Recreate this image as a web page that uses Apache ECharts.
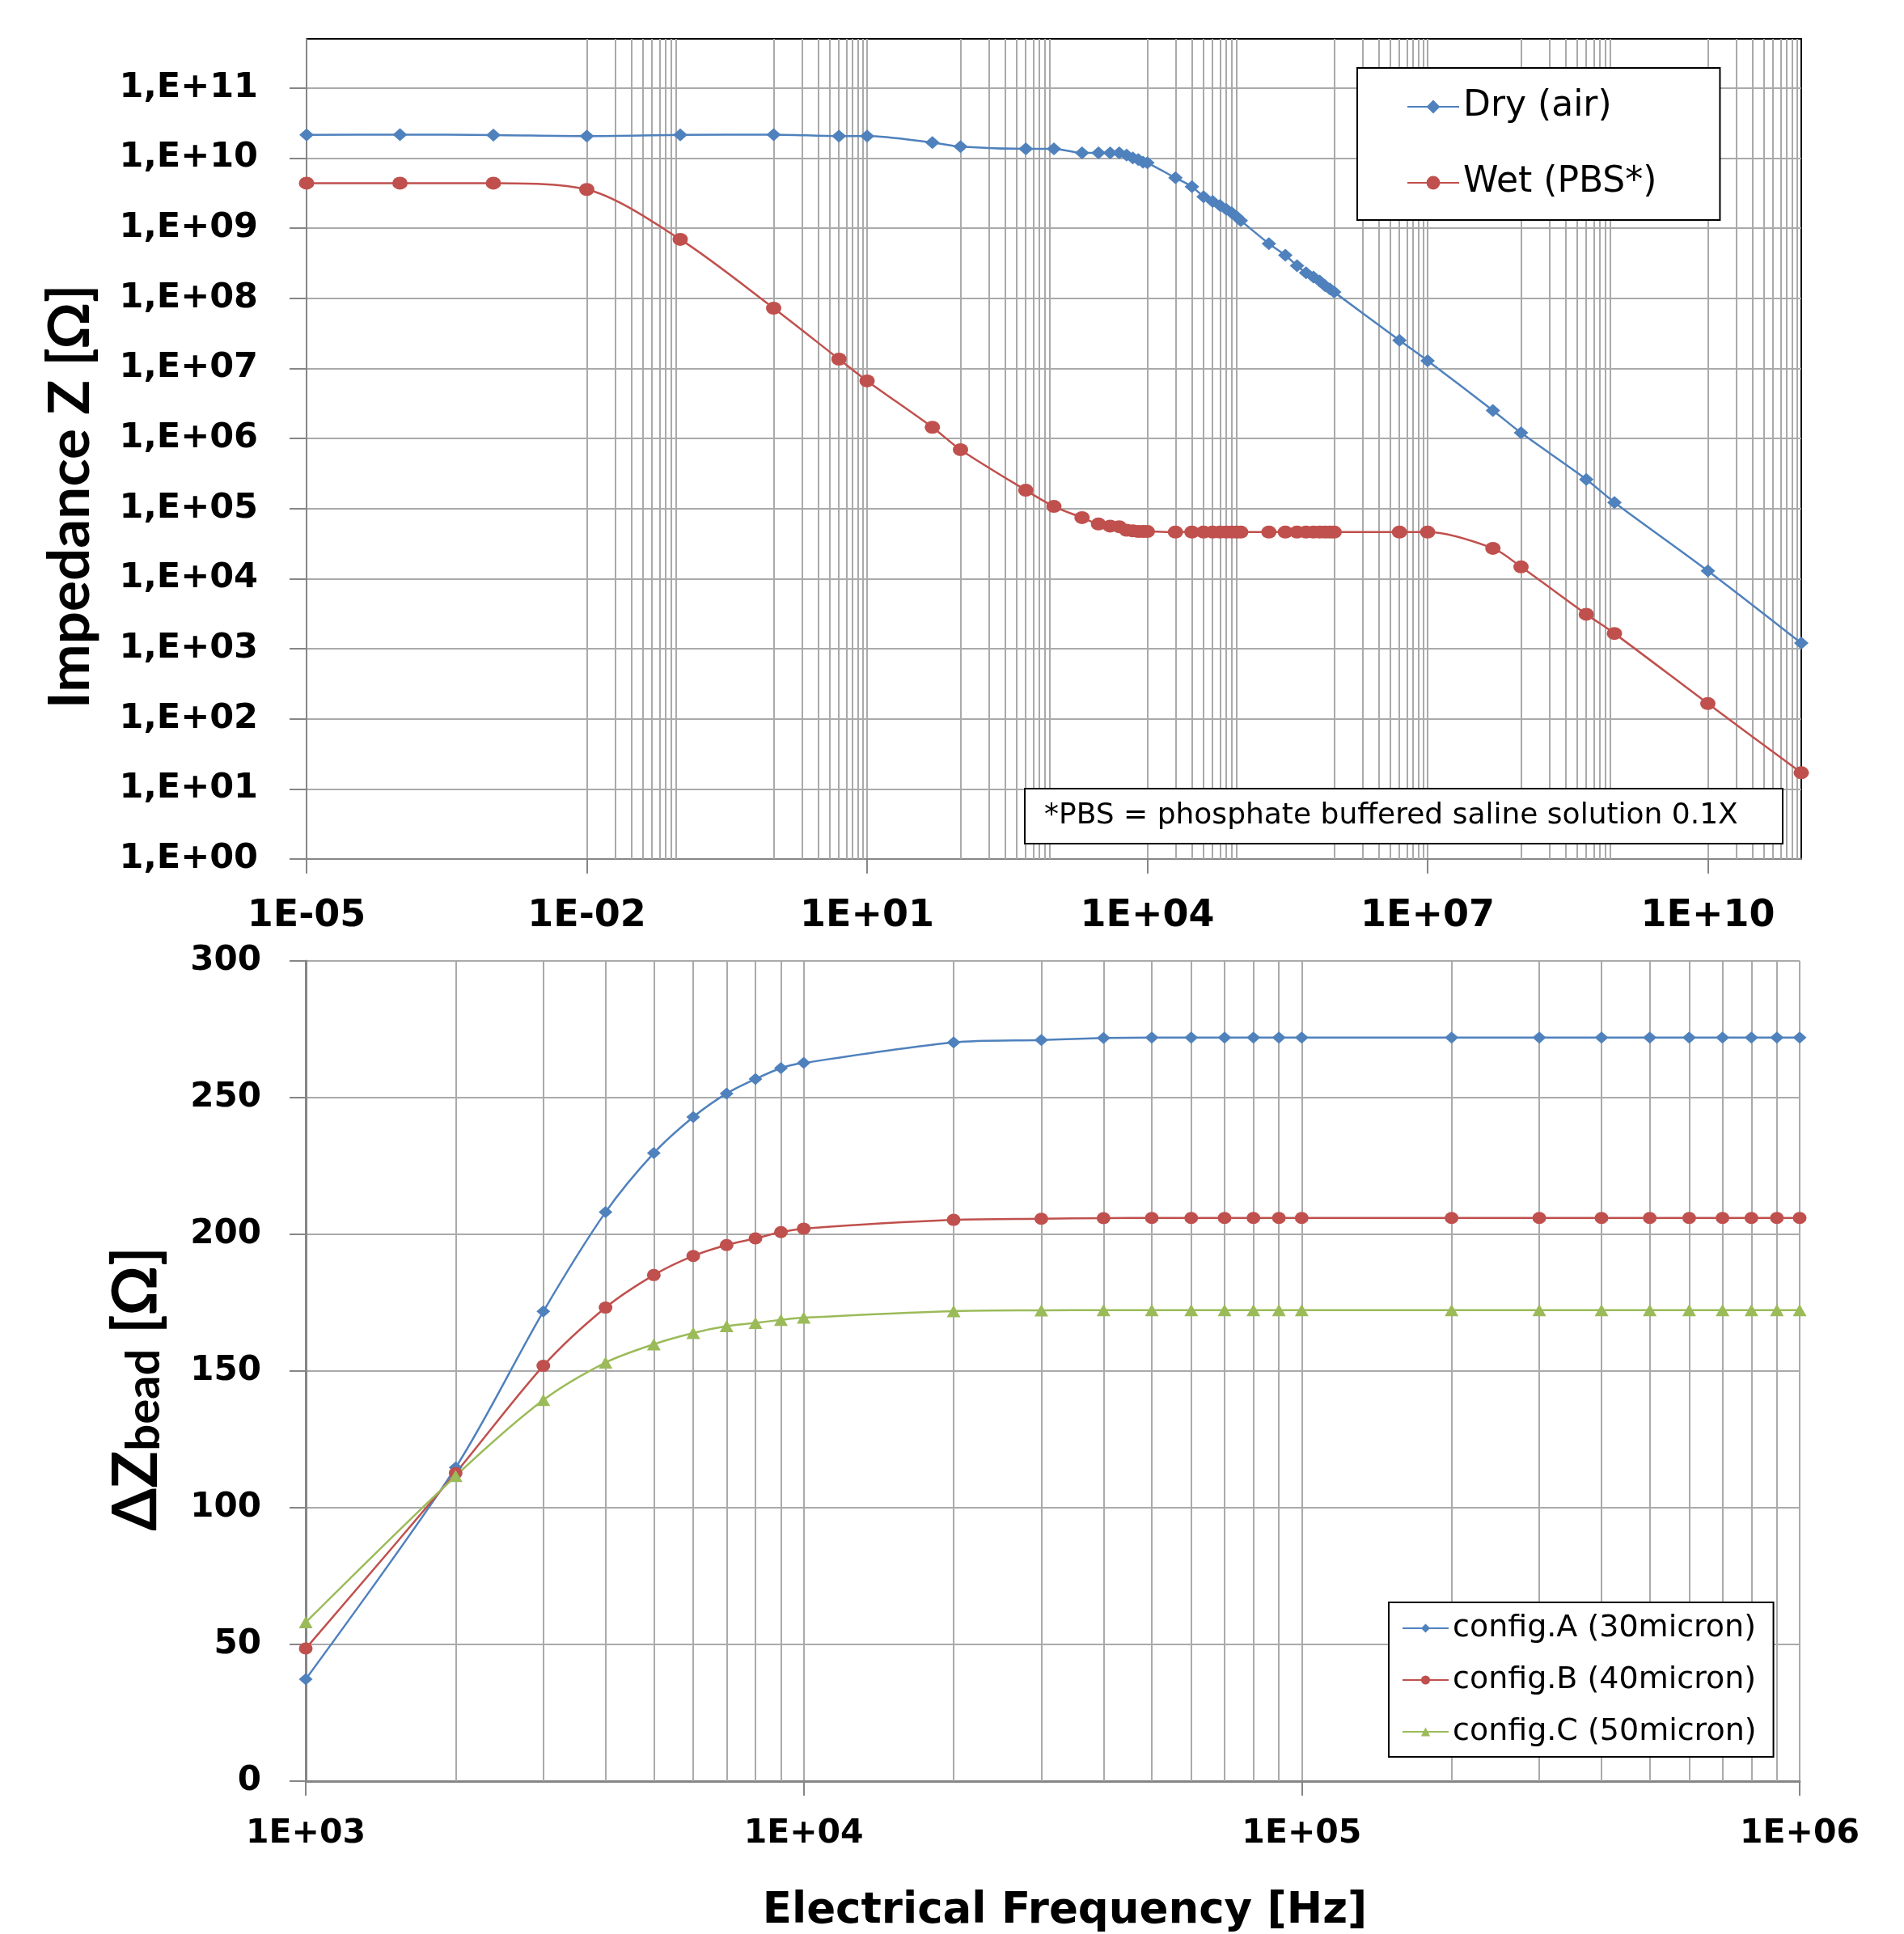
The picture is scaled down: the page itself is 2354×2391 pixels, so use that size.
<!DOCTYPE html>
<html>
<head>
<meta charset="utf-8">
<script src="https://cdn.jsdelivr.net/npm/echarts@6/dist/echarts.min.js"></script>
<style>
html,body{margin:0;padding:0;background:#fff;}
#c{width:2354px;height:2391px;}
</style>
</head>
<body>
<div id="c"></div>
<script>
// ---------------- DATA ----------------
// Top chart: impedance spectra
const topFreq = [1e-5, 1e-4, 1e-3, 1e-2, 1e-1, 1, 5, 10, 50, 100, 500, 1e3,
  2e3, 3e3, 4e3, 5e3, 6e3, 7e3, 8e3, 9e3, 1e4,
  2e4, 3e4, 4e4, 5e4, 6e4, 7e4, 8e4, 9e4, 1e5,
  2e5, 3e5, 4e5, 5e5, 6e5, 7e5, 8e5, 9e5, 1e6,
  5e6, 1e7, 5e7, 1e8, 5e8, 1e9, 1e10, 1e11];
const dryZ = [2.13e10, 2.15e10, 2.12e10, 2.05e10, 2.13e10, 2.15e10, 2.05e10, 2.05e10, 1.66e10, 1.45e10, 1.35e10, 1.35e10,
  1.18e10, 1.18e10, 1.18e10, 1.18e10, 1.1e10, 1.0e10, 9.5e9, 8.7e9, 8.5e9,
  5.2e9, 3.9e9, 2.8e9, 2.4e9, 2.1e9, 1.85e9, 1.65e9, 1.46e9, 1.28e9,
  6.0e8, 4.1e8, 2.9e8, 2.3e8, 2.0e8, 1.75e8, 1.5e8, 1.35e8, 1.22e8,
  2.5e7, 1.28e7, 2.5e6, 1.2e6, 2.6e5, 1.22e5, 1.29e4, 1.2e3];
const wetZ = [4.37e9, 4.37e9, 4.37e9, 3.55e9, 6.9e8, 7.2e7, 1.35e7, 6.6e6, 1.44e6, 6.9e5, 1.82e5, 1.07e5,
  7.4e4, 6.0e4, 5.6e4, 5.5e4, 4.9e4, 4.8e4, 4.7e4, 4.7e4, 4.7e4,
  4.6e4, 4.6e4, 4.6e4, 4.6e4, 4.6e4, 4.6e4, 4.6e4, 4.6e4, 4.6e4,
  4.6e4, 4.6e4, 4.6e4, 4.6e4, 4.6e4, 4.6e4, 4.6e4, 4.6e4, 4.6e4,
  4.6e4, 4.6e4, 2.7e4, 1.47e4, 3.1e3, 1.65e3, 165, 17];
const topXTickLabels = ['1E-05', '1E-02', '1E+01', '1E+04', '1E+07', '1E+10'];
const topYTickLabels = ['1,E+00', '1,E+01', '1,E+02', '1,E+03', '1,E+04', '1,E+05',
  '1,E+06', '1,E+07', '1,E+08', '1,E+09', '1,E+10', '1,E+11'];
const topMinorGridFreq = [2e-2, 3e-2, 4e-2, 5e-2, 6e-2, 7e-2, 8e-2, 9e-2,
  1, 2, 3, 4, 5, 6, 7, 8, 9,
  1e2, 2e2, 3e2, 4e2, 5e2, 6e2, 7e2, 8e2, 9e2,
  2e4, 3e4, 4e4, 5e4, 6e4, 7e4, 8e4, 9e4,
  1e6, 2e6, 3e6, 4e6, 5e6, 6e6, 7e6, 8e6, 9e6,
  1e8, 2e8, 3e8, 4e8, 5e8, 6e8, 7e8, 8e8, 9e8,
  2e10, 3e10, 4e10, 5e10, 6e10, 7e10, 8e10, 9e10];

// Bottom chart: bead impedance change
const bottomFreq = [1e3, 2e3, 3e3, 4e3, 5e3, 6e3, 7e3, 8e3, 9e3, 1e4,
  2e4, 3e4, 4e4, 5e4, 6e4, 7e4, 8e4, 9e4, 1e5,
  2e5, 3e5, 4e5, 5e5, 6e5, 7e5, 8e5, 9e5, 1e6];
const configA = [37.3, 114.7, 171.8, 208.1, 229.7, 242.9, 251.5, 256.8, 260.8, 262.7,
  270.2, 271.1, 271.8, 272, 272, 272, 272, 272, 272,
  272, 272, 272, 272, 272, 272, 272, 272, 272];
const configB = [48.5, 112.7, 151.9, 173.2, 185.1, 192.1, 196.1, 198.5, 200.8, 202.1,
  205.3, 205.7, 205.9, 206, 206, 206, 206, 206, 206,
  206, 206, 206, 206, 206, 206, 206, 206, 206];
const configC = [58.1, 111.6, 139.4, 153.1, 159.8, 163.9, 166.4, 167.6, 168.7, 169.5,
  171.9, 172.2, 172.3, 172.3, 172.3, 172.3, 172.3, 172.3, 172.3,
  172.3, 172.3, 172.3, 172.3, 172.3, 172.3, 172.3, 172.3, 172.3];
const bottomXTickValues = [1e3, 1e4, 1e5, 1e6];
const bottomXTickLabels = ['1E+03', '1E+04', '1E+05', '1E+06'];
const bottomMinorGridFreq = [2e3, 3e3, 4e3, 5e3, 6e3, 7e3, 8e3, 9e3,
  2e4, 3e4, 4e4, 5e4, 6e4, 7e4, 8e4, 9e4,
  2e5, 3e5, 4e5, 5e5, 6e5, 7e5, 8e5, 9e5];

const seriesNames = ['Dry (air)', 'Wet (PBS*)', 'config.A (30micron)', 'config.B (40micron)', 'config.C (50micron)'];
const noteText = '*PBS = phosphate buffered saline solution 0.1X';

// ---------------- STYLE ----------------
const BLUE = '#4F81BD', RED = '#C0504D', GREEN = '#9BBB59';
const GRID = '#aaaaaa', AXIS = '#868686';
const FONT = "'DejaVu Sans', sans-serif";
const TITLE_FONT = "Lato, 'DejaVu Sans', sans-serif";

const TOP_X_MIN = 1e-5, TOP_X_MAX = 1e11, TOP_Y_MIN = 1, TOP_Y_MAX = 5e11;
const topXDecades = Math.log10(TOP_X_MAX / TOP_X_MIN);
const topYDecades = Math.log10(TOP_Y_MAX / TOP_Y_MIN);
const topXTickPos = topXTickLabels.map((_, i) => i * 3);
const topYTickPos = topYTickLabels.map((_, i) => i);

const pairs = (xs, ys) => xs.map((x, i) => [x, ys[i]]);

const tickLabel = (size) => ({fontFamily: FONT, fontWeight: 'bold', fontSize: size, color: '#000'});
const minorLines = (vals) => ({
  silent: true, symbol: ['none', 'none'], z: 1, animation: false,
  label: {show: false}, emphasis: {disabled: true},
  lineStyle: {color: GRID, width: 2, type: 'solid'},
  data: vals.map(v => ({xAxis: v}))
});

const chart = echarts.init(document.getElementById('c'), null, {renderer: 'canvas', width: 2354, height: 2391});

const option = {
  animation: false,
  backgroundColor: '#fff',
  title: {
    text: noteText,
    left: 1267, top: 975,
    padding: [15, 55, 15, 24],
    borderColor: '#000', borderWidth: 2, backgroundColor: '#fff',
    textStyle: {fontFamily: FONT, fontWeight: 'normal', fontSize: 36, lineHeight: 38, color: '#000'}
  },
  legend: [
    {
      data: seriesNames.slice(0, 2), orient: 'vertical', left: 1678, top: 84,
      padding: [26, 78, 24, 61], itemWidth: 64, itemHeight: 21, itemGap: 50,
      borderColor: '#000', borderWidth: 2, backgroundColor: '#fff', selectedMode: false,
      textStyle: {fontFamily: FONT, fontSize: 44, color: '#000'}
    },
    {
      data: seriesNames.slice(2), orient: 'vertical', left: 1717, top: 1981,
      padding: [13, 21, 12, 16], itemWidth: 57, itemHeight: 14, itemGap: 26,
      borderColor: '#000', borderWidth: 2, backgroundColor: '#fff', selectedMode: false,
      textStyle: {fontFamily: FONT, fontSize: 38, color: '#000'}
    }
  ],
  grid: [
    {left: 379, width: 1848, top: 48, height: 1014, show: true, borderColor: '#000', borderWidth: 2, backgroundColor: 'transparent'},
    {left: 378, width: 1847, top: 1188, height: 1014}
  ],
  xAxis: [
    { // visible decade scale of the top chart
      type: 'value', gridIndex: 0, min: 0, max: topXDecades, interval: 3,
      axisLine: {show: true, onZero: false, lineStyle: {color: AXIS, width: 2}},
      axisTick: {show: true, length: 18, customValues: topXTickPos, lineStyle: {color: AXIS, width: 2}},
      axisLabel: Object.assign({customValues: topXTickPos, margin: 48,
        formatter: v => topXTickLabels[Math.round(v / 3)] || ''}, tickLabel(46)),
      splitLine: {show: true, lineStyle: {color: GRID, width: 2}}
    },
    { // log axis carrying the top data
      type: 'log', gridIndex: 0, min: TOP_X_MIN, max: TOP_X_MAX, show: false
    },
    { // bottom chart
      type: 'log', gridIndex: 1, min: 1e3, max: 1e6, logBase: 10,
      axisLine: {show: true, onZero: false, lineStyle: {color: AXIS, width: 3}},
      axisTick: {show: true, length: 18, lineStyle: {color: AXIS, width: 2}},
      axisLabel: Object.assign({margin: 45, formatter: v => {
        const i = bottomXTickValues.findIndex(t => Math.abs(v / t - 1) < 1e-6);
        return i >= 0 ? bottomXTickLabels[i] : '';
      }}, tickLabel(41)),
      splitLine: {show: true, lineStyle: {color: GRID, width: 2}},
      minorTick: {show: false}, minorSplitLine: {show: false},
      name: 'Electrical Frequency [Hz]', nameLocation: 'middle', nameGap: 135,
      nameTextStyle: {fontFamily: FONT, fontWeight: 'bold', fontSize: 53, color: '#000', padding: [0, 0, 0, 30]}
    }
  ],
  yAxis: [
    { // visible decade scale of the top chart
      type: 'value', gridIndex: 0, min: 0, max: topYDecades, interval: 1,
      axisLine: {show: true, onZero: false, lineStyle: {color: AXIS, width: 2}},
      axisTick: {show: true, length: 21, customValues: topYTickPos, lineStyle: {color: AXIS, width: 2}},
      axisLabel: Object.assign({customValues: topYTickPos, margin: 60,
        formatter: v => topYTickLabels[Math.round(v)] || ''}, tickLabel(43)),
      splitLine: {show: true, lineStyle: {color: GRID, width: 2}},
      name: 'Impedance Z [Ω]', nameLocation: 'middle', nameRotate: 90, nameGap: 256,
      nameTextStyle: {fontFamily: TITLE_FONT, fontWeight: 'bold', fontSize: 71, color: '#000', padding: [0, 118, 0, 0]}
    },
    { // log axis carrying the top data
      type: 'log', gridIndex: 0, min: TOP_Y_MIN, max: TOP_Y_MAX, show: false
    },
    { // bottom chart
      type: 'value', gridIndex: 1, min: 0, max: 300, interval: 50,
      axisLine: {show: true, onZero: false, lineStyle: {color: AXIS, width: 3}},
      axisTick: {show: true, length: 20, lineStyle: {color: AXIS, width: 2}},
      axisLabel: Object.assign({margin: 55}, tickLabel(42)),
      splitLine: {show: true, lineStyle: {color: GRID, width: 2}},
      name: '{a|ΔZ}{b|bead}{a| [Ω]}', nameLocation: 'middle', nameRotate: 90, nameGap: 171,
      nameTextStyle: {
        padding: [0, 44, 0, 0],
        rich: {
          a: {fontFamily: TITLE_FONT, fontWeight: 'bold', fontSize: 76, lineHeight: 76, color: '#000', verticalAlign: 'bottom'},
          b: {fontFamily: TITLE_FONT, fontWeight: 'bold', fontSize: 58, lineHeight: 58, color: '#000', verticalAlign: 'bottom'}
        }
      }
    }
  ],
  series: [
    {name: 'topMinorGrid', type: 'line', xAxisIndex: 1, yAxisIndex: 1, data: [], silent: true, z: 1,
      markLine: minorLines(topMinorGridFreq)},
    {name: seriesNames[0], type: 'line', xAxisIndex: 1, yAxisIndex: 1, data: pairs(topFreq, dryZ),
      symbol: 'diamond', symbolSize: [18, 16], smooth: 0.3, z: 3,
      lineStyle: {color: BLUE, width: 2.5}, itemStyle: {color: BLUE}},
    {name: seriesNames[1], type: 'line', xAxisIndex: 1, yAxisIndex: 1, data: pairs(topFreq, wetZ),
      symbol: 'circle', symbolSize: [19, 16], smooth: 0.3, z: 3,
      lineStyle: {color: RED, width: 2.5}, itemStyle: {color: RED}},
    {name: 'bottomMinorGrid', type: 'line', xAxisIndex: 2, yAxisIndex: 2, data: [], silent: true, z: 1,
      markLine: minorLines(bottomMinorGridFreq)},
    {name: seriesNames[2], type: 'line', xAxisIndex: 2, yAxisIndex: 2, data: pairs(bottomFreq, configA),
      symbol: 'diamond', symbolSize: [17, 15], smooth: 0.3, z: 3,
      lineStyle: {color: BLUE, width: 2.5}, itemStyle: {color: BLUE}},
    {name: seriesNames[3], type: 'line', xAxisIndex: 2, yAxisIndex: 2, data: pairs(bottomFreq, configB),
      symbol: 'circle', symbolSize: [17, 15], smooth: 0.3, z: 3,
      lineStyle: {color: RED, width: 2.5}, itemStyle: {color: RED}},
    {name: seriesNames[4], type: 'line', xAxisIndex: 2, yAxisIndex: 2, data: pairs(bottomFreq, configC),
      symbol: 'triangle', symbolSize: [17, 15], smooth: 0.3, z: 3,
      lineStyle: {color: GREEN, width: 2.5}, itemStyle: {color: GREEN}}
  ]
};
chart.setOption(option);
</script>
</body>
</html>
